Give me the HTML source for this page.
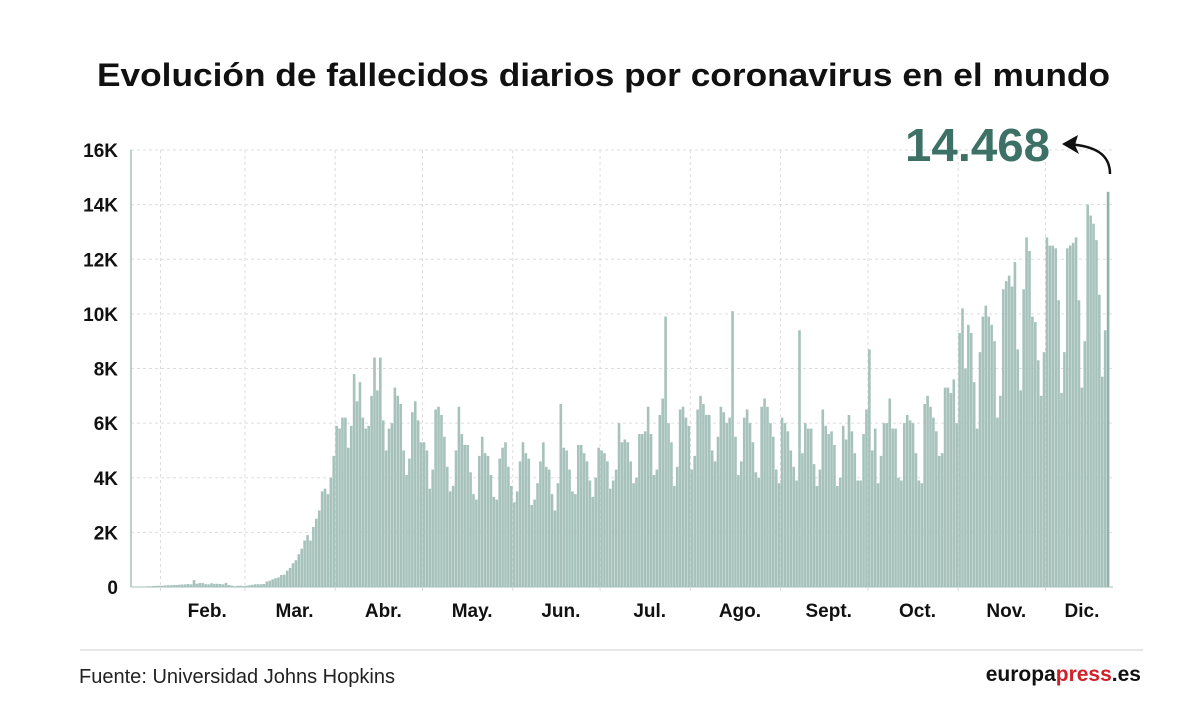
<!DOCTYPE html>
<html><head><meta charset="utf-8">
<style>
html,body{margin:0;padding:0;background:#fff;}
body{width:1200px;height:719px;overflow:hidden;font-family:"Liberation Sans",sans-serif;}
</style></head>
<body>
<svg id="chart" width="1200" height="719" xmlns="http://www.w3.org/2000/svg">
  <text x="97" y="86" textLength="1013" lengthAdjust="spacingAndGlyphs" font-family="Liberation Sans, sans-serif" font-weight="bold" font-size="32" fill="#111">Evolución de fallecidos diarios por coronavirus en el mundo</text>
  <g id="grid"></g>
  <g id="bars"></g>
  <g id="yaxis"></g>
  <g id="xaxis"></g>
  <text x="1050" y="161" text-anchor="end" textLength="145" lengthAdjust="spacingAndGlyphs" font-family="Liberation Sans, sans-serif" font-weight="bold" font-size="46" fill="#3d7166">14.468</text>
  <g>
    <path d="M1110 174 C1110 154 1095 146 1068 144" fill="none" stroke="#111" stroke-width="2.5"/>
    <path d="M1062 144 L1078 135 L1075 145 L1079 154 Z" fill="#111"/>
  </g>
  <line x1="80" y1="650" x2="1143" y2="650" stroke="#ddd" stroke-width="1.5"/>
  <text x="79" y="683" textLength="316" lengthAdjust="spacingAndGlyphs" font-family="Liberation Sans, sans-serif" font-size="20" fill="#222">Fuente: Universidad Johns Hopkins</text>
  <text x="1141" y="681" text-anchor="end" font-family="Liberation Sans, sans-serif" font-weight="bold" font-size="21" fill="#111">europa<tspan fill="#d0202a">press</tspan>.es</text>
</svg>
<script>
// daily deaths in thousands, Jan 22 .. Dec 22
const jan=[0.017,0.001,0.008,0.016,0.014,0.026,0.026,0.038,0.043,0.046];
const feb=[0.045,0.057,0.064,0.066,0.073,0.073,0.086,0.089,0.097,0.108,0.097,0.254,0.121,0.143,0.142,0.105,0.098,0.136,0.114,0.118,0.109,0.097,0.15,0.071,0.052,0.029,0.044,0.047,0.035];
const mar=[0.05,0.06,0.08,0.1,0.1,0.1,0.11,0.2,0.23,0.28,0.32,0.35,0.44,0.45,0.6,0.7,0.87,0.98,1.2,1.4,1.7,1.9,1.7,2.2,2.5,2.8,3.5,3.6,3.4,4.0,4.8];
const apr=[5.9,5.8,6.2,6.2,5.1,5.9,7.8,6.8,7.5,6.2,5.8,5.9,7.0,8.4,7.2,8.4,6.1,5.0,5.8,6.0,7.3,7.0,6.7,5.0,4.1,4.7,6.4,6.8,6.1,5.3];
const may=[5.3,5.0,3.6,4.3,6.5,6.6,6.3,5.5,4.4,3.5,3.7,5.0,6.6,5.6,5.2,5.2,4.2,3.4,3.2,4.8,5.5,4.9,4.8,4.1,3.3,3.2,4.7,5.1,5.3,4.4,3.7];
const jun=[3.1,3.5,4.6,5.3,4.9,4.7,3.0,3.2,3.8,4.6,5.3,4.4,4.3,3.4,2.8,3.8,6.7,5.1,5.0,4.3,3.5,3.4,5.2,5.2,4.9,4.6,3.9,3.3,4.0,5.1];
const jul=[5.0,4.9,4.6,3.6,3.9,4.3,6.0,5.3,5.4,5.3,4.6,3.8,4.0,5.6,5.6,5.7,6.6,5.6,4.1,4.3,6.3,6.9,9.9,6.0,5.3,3.7,4.4,6.5,6.6,6.2,5.9];
const aug=[4.3,4.8,6.5,7.0,6.7,6.3,6.3,5.0,4.6,5.5,6.6,6.4,6.0,6.2,10.1,5.5,4.1,4.6,6.2,6.5,6.0,5.3,4.2,4.0,6.6,6.9,6.6,6.0,5.5,4.3,3.8];
const sep=[6.2,6.0,5.7,5.0,4.4,3.9,9.4,4.9,6.0,5.8,5.8,4.5,3.7,4.3,6.5,5.9,5.6,5.7,5.2,3.7,4.0,5.9,5.4,6.3,5.7,4.9,3.9,3.9,5.6,6.5];
const oct=[8.7,5.0,5.8,3.8,4.8,6.0,6.0,6.9,5.8,5.8,4.0,3.9,6.0,6.3,6.1,6.0,4.9,3.9,3.8,6.7,7.0,6.6,6.2,5.7,4.8,4.9,7.3,7.3,7.1,7.6,6.0];
const nov=[9.3,10.2,8.0,9.6,9.3,7.5,5.8,8.6,9.9,10.3,9.9,9.6,9.0,6.2,7.0,10.9,11.2,11.4,11.0,11.9,8.7,7.2,10.9,12.8,12.3,9.9,9.7,8.3,7.0,8.6];
const dec=[12.8,12.5,12.5,12.4,10.5,7.1,8.6,12.4,12.5,12.6,12.8,10.5,7.3,9.0,14.0,13.6,13.3,12.7,10.7,7.7,9.4,14.468];
const values=[].concat(jan,feb,mar,apr,may,jun,jul,aug,sep,oct,nov,dec);
const yTicks=[0,2,4,6,8,10,12,14,16];
const yTickLabels=["0","2K","4K","6K","8K","10K","12K","14K","16K"];
const monthLabels=["Feb.","Mar.","Abr.","May.","Jun.","Jul.","Ago.","Sept.","Oct.","Nov.","Dic."];
const monthStartIdx=[10,39,70,100,131,161,192,223,253,284,314];

const NS="http://www.w3.org/2000/svg";
const X0=131,X1=1113,Y0=587,Y16=150;
function y(v){return Y0-(v/16)*(Y0-Y16);}
function x(i){return 162+(i-10)*2.911;}
function mk(tag,attrs,parent){const e=document.createElementNS(NS,tag);for(const k in attrs)e.setAttribute(k,attrs[k]);parent.appendChild(e);return e;}
const grid=document.getElementById('grid'),bars=document.getElementById('bars'),ya=document.getElementById('yaxis'),xa=document.getElementById('xaxis');

yTicks.forEach((t,k)=>{
  if(t>0){const l=mk('line',{x1:X0,x2:X1,y1:y(t),y2:y(t),stroke:'#ddd','stroke-width':1,'stroke-dasharray':'3,3'},grid);
  
  }
  const tx=mk('text',{x:118,y:y(t)+7,'text-anchor':'end','font-size':19,'font-weight':'bold',fill:'#111','font-family':'Liberation Sans, sans-serif'},ya);
  tx.textContent=yTickLabels[k];
  
  
});
monthStartIdx.forEach((mi,k)=>{
  const gx=x(mi)-1.5;
  const l=mk('line',{x1:gx,x2:gx,y1:Y16,y2:Y0+5,stroke:'#ddd','stroke-width':1,'stroke-dasharray':'3,3'},grid);
  
  
  const nextIdx=k+1<monthStartIdx.length?monthStartIdx[k+1]:values.length;
  const cx=(x(mi)+x(nextIdx))/2+3;
  const tx=mk('text',{x:cx,y:617,'text-anchor':'middle','font-size':19,'font-weight':'bold',fill:'#111','font-family':'Liberation Sans, sans-serif'},xa);
  tx.textContent=monthLabels[k];
  
  
});
values.forEach((v,i)=>{
  const last=i===values.length-1;
  const r=mk('rect',{x:x(i)-1.3,y:y(v),width:2.6,height:Y0-y(v),fill:last?'#8fb3aa':'#a6c2bb'},bars);
  
  
});
const ax=mk('line',{x1:X0,x2:X0,y1:Y16,y2:Y0,stroke:'#a6c2bb','stroke-width':1.5},ya);


const bx=mk('line',{x1:X0,x2:X1,y1:Y0,y2:Y0,stroke:'#a6c2bb','stroke-width':1},xa);


</script>
</body></html>
